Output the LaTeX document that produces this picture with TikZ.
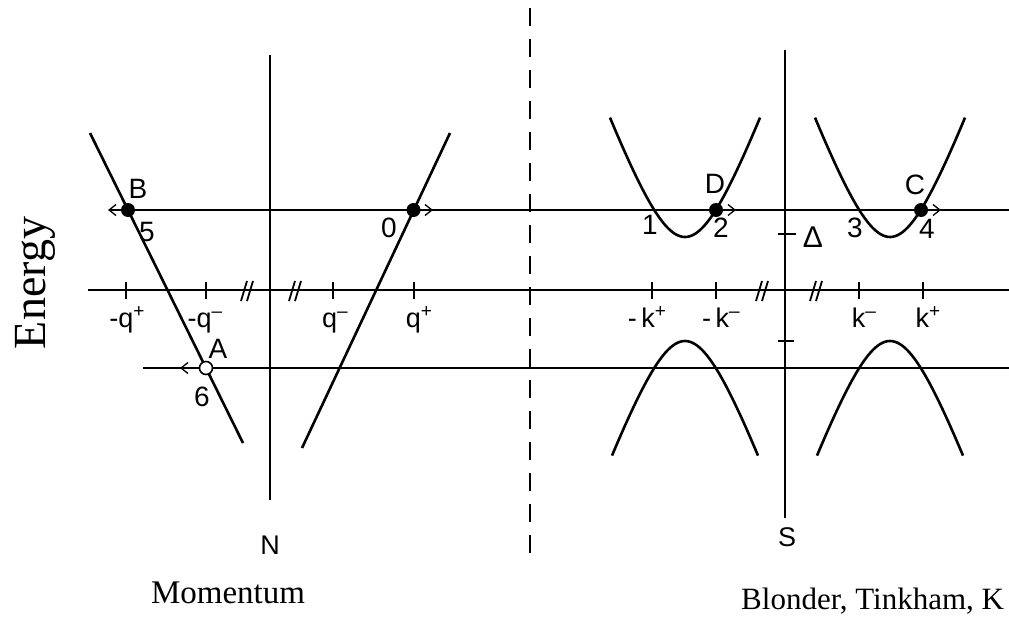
\documentclass[tikz,border=0pt]{standalone}
\usepackage{fontspec}
\setmainfont{Liberation Serif}
\setsansfont{Liberation Sans}
\usetikzlibrary{arrows.meta}
\newcommand\upsc[1]{\raisebox{10pt}{\fontsize{19}{19}\selectfont #1}}
\begin{document}
\begin{tikzpicture}[x=1pt,y=-1pt,
 axisline/.style={line width=2.8pt},
 vline/.style={line width=2.2pt},
 curve/.style={line width=2.6pt},
 level/.style={line width=1.2pt},
 tickmark/.style={line width=1.8pt},
 breakmark/.style={line width=1.8pt},
 dot/.style={circle, fill=black, inner sep=0pt, minimum size=14pt},
 hole/.style={circle, draw=black, fill=white, line width=1.6pt, inner sep=0pt, minimum size=13pt},
 lbl/.style={font=\sffamily\fontsize{28}{28}\selectfont, inner sep=0pt},
 axlbl/.style={font=\sffamily\fontsize{27}{27}\selectfont, inner sep=0pt, anchor=base},
 arr/.style={level, -{Straight Barb[length=7pt,width=11pt,line width=1.3pt]}},
]
\useasboundingbox (0,0) rectangle (1009,616);
\clip (0,0) rectangle (1009,616);

% dashed divider
\coordinate (dT) at (530,8);
\coordinate (dB) at (530,556);
\draw[line width=2pt, dash pattern=on 18pt off 13pt] (dT) -- (dB);

% energy axis
\coordinate (axL) at (88,290);
\coordinate (axR) at (1009,290);
\draw[axisline] (axL) -- (axR);

% vertical lines N and S
\coordinate (nT) at (270,55);
\coordinate (nB) at (270,500);
\coordinate (sT) at (785,50);
\coordinate (sB) at (785,518);
\draw[vline] (nT) -- (nB);
\draw[vline] (sT) -- (sB);
\node[lbl, font=\sffamily\fontsize{27}{27}\selectfont] (N) at (270,545) {N};
\node[lbl, font=\sffamily\fontsize{27}{27}\selectfont] (S) at (787,537) {S};

% ticks on axis
\foreach \t in {126,206,333,414,652,716,859,923}
  \draw[tickmark] (\t,282) -- (\t,299);
% Delta ticks
\draw[tickmark] (778,234) -- (796,234);
\draw[tickmark] (778,341) -- (794,341);

% break marks
\foreach \b in {247,295,762,816}{
  \draw[breakmark] (\b-6,301) -- (\b,281);
  \draw[breakmark] (\b,301) -- (\b+6,281);
}

% axis labels
\node[axlbl] at (127,327) {-q\upsc{+}};
\node[axlbl] at (205,327) {-q\upsc{–}};
\node[axlbl] at (335,327) {q\upsc{–}};
\node[axlbl] at (419,327) {q\upsc{+}};
\node[axlbl] at (647,327) {-\,k\upsc{+}};
\node[axlbl] at (721,327) {-\,k\upsc{–}};
\node[axlbl] at (864,327) {k\upsc{–}};
\node[axlbl] at (928,327) {k\upsc{+}};

% normal-metal branches
\coordinate (hT) at (90,133);
\coordinate (hB) at (243,443);
\coordinate (eT) at (450,133);
\coordinate (eB) at (302,448);
\draw[curve] (hT) -- (hB);
\draw[curve] (eT) -- (eB);

% superconductor branches
\draw[curve] plot[domain=-75:75, samples=61, smooth] ({685+\x},{237-(10*sqrt(145.44+0.0765*\x*\x)-120.6)});
\draw[curve] plot[domain=-75:75, samples=61, smooth] ({890+\x},{237-(10*sqrt(145.44+0.0765*\x*\x)-120.6)});
\draw[curve] plot[domain=-73:73, samples=61, smooth] ({685+\x},{341+(10*sqrt(145.44+0.0765*\x*\x)-120.6)});
\draw[curve] plot[domain=-73:73, samples=61, smooth] ({890+\x},{341+(10*sqrt(145.44+0.0765*\x*\x)-120.6)});

% energy levels
\coordinate (uR) at (1009,210);
\coordinate (Btip) at (108,210);
\coordinate (lL) at (143,368);
\coordinate (lR) at (1009,368);
\draw[arr] (uR) -- (Btip);
\draw[level] (lL) -- (lR);

% particles
\node[dot] (B) at (128,210) {};
\node[dot] (O) at (413.5,210) {};
\node[dot] (D) at (716,210) {};
\node[dot] (C) at (921,210) {};
\node[hole] (A) at (206,368) {};

\coordinate (Otip) at (433,210);
\coordinate (Dtip) at (736,210);
\coordinate (Ctip) at (941,210);
\coordinate (Atip) at (180,368);
\draw[arr] (O.center) -- (Otip);
\draw[arr] (D.center) -- (Dtip);
\draw[arr] (C.center) -- (Ctip);
\draw[arr] (A.west) -- (Atip);

% point labels
\node[lbl] (lB) at (138,189) {B};
\node[lbl] (l5) at (147,232) {5};
\node[lbl] (l0) at (389,228) {0};
\node[lbl] (lA) at (218,349) {A};
\node[lbl] (l6) at (202,397) {6};
\node[lbl] (lD) at (715,184) {D};
\node[lbl] (l1) at (650,225) {1};
\node[lbl] (l2) at (721,228) {2};
\node[lbl] (lC) at (915,185) {C};
\node[lbl] (l3) at (855,228) {3};
\node[lbl] (l4) at (927,229) {4};
\node[lbl, font=\sffamily\fontsize{30}{30}\selectfont] (lDelta) at (813,237) {Δ};

% titles
\node[rotate=90, inner sep=0pt, font=\fontsize{46}{46}\selectfont] (energy) at (35,283) {Energy};
\node[anchor=base, inner sep=0pt, font=\fontsize{33}{33}\selectfont] (momentum) at (228,603) {Momentum};
\node[anchor=base west, inner sep=0pt, font=\fontsize{31}{31}\selectfont] (ref) at (741,609) {Blonder, Tinkham, K};
\end{tikzpicture}
\end{document}
